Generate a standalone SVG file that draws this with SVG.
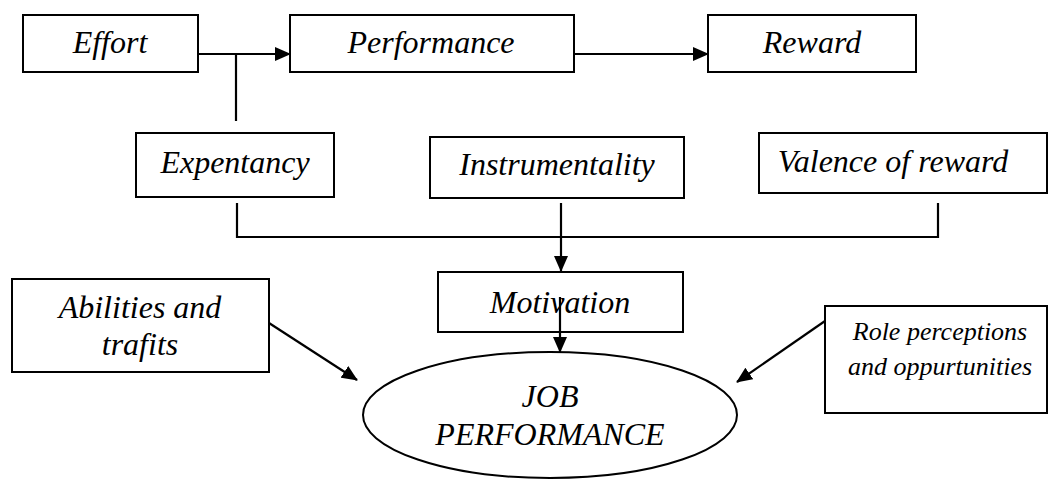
<svg xmlns="http://www.w3.org/2000/svg" width="1049" height="479" viewBox="0 0 1049 479">
<style>
.box{fill:#fff;stroke:#000;stroke-width:2}
.t{font-family:"Liberation Serif","Times New Roman",serif;font-style:italic;fill:#000;text-anchor:middle}
.l{font-size:32px}
.s{font-size:26px}
.c{fill:none;stroke:#000;stroke-width:2.2}
</style>
<defs>
<marker id="ah" markerWidth="16" markerHeight="14" refX="15" refY="7" orient="auto" markerUnits="userSpaceOnUse">
<path d="M0,0 L16,7 L0,14 Z" fill="#000"/>
</marker>
</defs>
<rect width="1049" height="479" fill="#fff"/>
<g id="effort"><rect class="box" x="23" y="15" width="175" height="57"/><text class="t l" x="110" y="53">Effort</text></g>
<g id="performance"><rect class="box" x="290" y="15" width="284" height="57"/><text class="t l" x="431" y="53">Performance</text></g>
<g id="reward"><rect class="box" x="708" y="15" width="208" height="57"/><text class="t l" x="812" y="53">Reward</text></g>
<g id="expentancy"><rect class="box" x="136" y="133" width="198" height="64"/><text class="t l" x="235" y="173">Expentancy</text></g>
<g id="instrumentality"><rect class="box" x="430" y="137" width="254" height="61"/><text class="t l" x="557" y="175">Instrumentality</text></g>
<g id="valence"><rect class="box" x="759" y="133" width="288" height="60"/><text class="t l" x="893" y="172">Valence of reward</text></g>
<g id="motivation"><rect class="box" x="438" y="272" width="245" height="60"/><text class="t l" x="560" y="313">Motivation</text></g>
<g id="abilities"><rect class="box" x="12" y="279" width="257" height="93"/><text class="t l" x="140" y="318">Abilities and</text><text class="t l" x="140" y="355">trafits</text></g>
<g id="role"><rect class="box" x="825" y="306" width="222" height="107"/><text class="t s" x="940" y="340">Role perceptions</text><text class="t s" x="940" y="375">and oppurtunities</text></g>
<g id="job"><ellipse cx="550" cy="415" rx="187" ry="63" fill="#fff" stroke="#000" stroke-width="2"/><text class="t l" x="550" y="407">JOB</text><text class="t l" x="550" y="445">PERFORMANCE</text></g>
<g id="connectors">
<line class="c" x1="198" y1="54" x2="290" y2="54" marker-end="url(#ah)"/>
<line class="c" x1="574" y1="54" x2="708" y2="54" marker-end="url(#ah)"/>
<line class="c" x1="236" y1="54" x2="236" y2="121"/>
<polyline class="c" points="237,203 237,237 938,237 938,203"/>
<line class="c" x1="561" y1="203" x2="561" y2="271" marker-end="url(#ah)"/>
<line class="c" x1="560" y1="297" x2="560" y2="352" marker-end="url(#ah)"/>
<line class="c" x1="269" y1="323" x2="357" y2="380" marker-end="url(#ah)"/>
<line class="c" x1="825" y1="321" x2="737" y2="382" marker-end="url(#ah)"/>
</g>
</svg>
